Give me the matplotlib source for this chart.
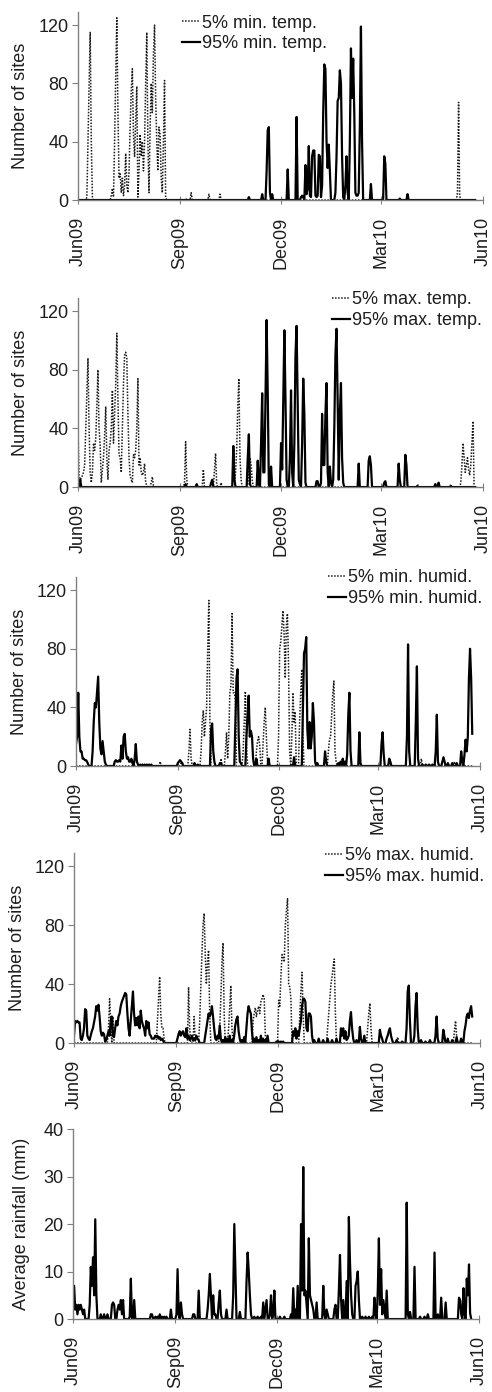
import numpy as np
import pandas as pd
import matplotlib
matplotlib.use("Agg")
import matplotlib.pyplot as plt
import matplotlib.dates as mdates

plt.rcParams['font.family'] = ['Liberation Sans', 'DejaVu Sans']
plt.rcParams['font.size'] = 13

# --- data: day offset from 1 Jun 2009 -> value (days not listed are 0) ---
n_days = 359
dates = pd.date_range('2009-06-01', periods=n_days, freq='D')

# panel 1: minimum temperature
mint5_days = [8, 9, 10, 11, 12, 13, 30, 31, 32, 33, 34, 35, 36, 37, 38, 39, 40, 41, 42, 43, 44, 45, 46, 47, 48, 49, 50,
              51, 52, 53, 54, 55, 56, 57, 58, 59, 60, 61, 62, 63, 64, 65, 66, 67, 68, 69, 70, 71, 72, 73, 74, 75, 76,
              77, 78, 79, 97, 102, 118, 128, 342, 343, 344]
mint5_vals = [2, 40, 80, 115, 40, 2, 3, 8, 2, 40, 85, 125, 60, 15, 18, 5, 15, 3, 10, 32, 10, 5, 20, 50, 75, 90, 45,
              30, 55, 78, 2, 20, 45, 30, 40, 20, 40, 80, 115, 40, 5, 50, 80, 60, 100, 120, 70, 40, 20, 50, 45, 15, 5,
              40, 82, 2, 1, 5, 4, 4, 5, 67, 3]
mint95_days = [154, 166, 170, 171, 172, 173, 175, 189, 197, 201, 202, 203, 205, 206, 207, 208, 209, 210, 211, 212,
               213, 214, 215, 216, 217, 218, 219, 220, 221, 222, 223, 224, 225, 226, 227, 232, 233, 234, 235, 236,
               237, 238, 239, 241, 242, 243, 245, 246, 247, 248, 249, 250, 251, 252, 253, 254, 255, 256, 264, 276,
               277, 290, 297]
mint95_vals = [2, 4, 20, 48, 50, 5, 4, 21, 57, 2, 3, 2, 24, 4, 8, 37, 3, 2, 30, 34,
               34, 3, 2, 3, 31, 30, 2, 10, 60, 93, 90, 40, 22, 38, 20, 5, 30, 68, 70, 89,
               80, 30, 2, 10, 30, 5, 40, 104, 70, 97, 60, 5, 3, 3, 5, 50, 119, 40, 11, 30,
               25, 1, 4]

# panel 2: maximum temperature
maxt5_days = [0, 1, 2, 3, 4, 5, 6, 7, 8, 9, 10, 11, 12, 13, 14, 15, 16, 17, 18, 19, 20, 21, 22, 23, 24, 25, 26, 27,
              28, 29, 30, 31, 32, 33, 34, 35, 36, 37, 38, 39, 40, 41, 42, 43, 44, 45, 46, 47, 48, 49, 50, 51, 52, 53,
              54, 55, 56, 57, 58, 59, 60, 61, 62, 66, 67, 68, 96, 97, 98, 113, 123, 124, 125, 129, 142, 143, 144,
              145, 146, 147, 154, 155, 156, 157, 306, 322, 325, 336, 345, 346, 347, 348, 349, 350, 351, 352, 353,
              354, 355, 356]
maxt5_vals = [38, 8, 5, 6, 8, 10, 15, 40, 65, 88, 40, 10, 3, 10, 30, 25, 33, 55, 80, 40, 28, 3, 12, 20, 35, 55, 20, 5,
              25, 30, 40, 66, 30, 50, 70, 105, 60, 22, 20, 10, 40, 70, 90, 92, 88, 50, 20, 8, 5, 3, 22, 20, 25, 40,
              74, 15, 20, 10, 8, 10, 16, 3, 1, 3, 7, 1, 3, 31, 5, 12, 12, 23, 2, 3, 10, 25, 55,
              74, 20, 5, 15, 20, 15, 5, 2, 2, 3, 2, 3, 15, 30, 20, 10, 15, 20, 12, 8,
              15, 30, 45]
maxt95_days = [2, 97, 107, 120, 121, 140, 141, 153, 154, 155, 162, 163, 165, 166, 167, 168, 169, 170, 171, 172, 174,
               183, 184, 185, 186, 187, 188, 191, 192, 193, 195, 196, 197, 198, 199, 200, 202, 203, 204, 205, 215,
               216, 219, 220, 221, 222, 223, 224, 225, 227, 228, 230, 231, 232, 233, 234, 235, 236, 237, 238, 239,
               253, 262, 263, 264, 276, 277, 289, 290, 295, 296, 322, 325]
maxt95_vals = [5, 2, 2, 3, 5, 28, 5, 20, 36, 2, 18, 2, 30, 64, 10, 10, 60, 114, 65, 2, 14,
               30, 12, 60, 107, 60, 5, 20, 66, 10, 30, 90, 110, 60, 5, 2, 30, 74, 50, 3, 4,
               4, 3, 50, 15, 15, 50, 71, 10, 14, 3, 5, 40, 90, 108, 60, 5, 50, 71, 20, 3,
               16, 18, 21, 15, 3, 4, 16, 5, 22, 15, 2, 3]

# panel 3: minimum humidity
minh5_days = [76, 95, 102, 103, 104, 113, 114, 115, 116, 117, 118, 119, 120, 121, 131, 135, 136, 137, 138, 139, 140,
              141, 142, 143, 144, 151, 152, 153, 154, 163, 164, 165, 166, 169, 170, 171, 172, 173, 183, 184, 185,
              186, 187, 188, 189, 190, 191, 192, 193, 195, 196, 197, 198, 202, 203, 204, 205, 228, 229, 230, 231,
              232, 233, 234, 235, 312, 342]
minh5_vals = [3, 2, 10, 25, 5, 10, 30, 38, 20, 30, 40, 80, 113, 30, 5, 10, 23, 5, 20, 50, 55,
              104, 50, 50, 45, 10, 30, 51, 15, 10, 17, 20, 14, 15, 30, 40, 20, 3, 20, 80, 85,
              95, 106, 90, 60, 95, 104, 70, 10, 20, 50, 30, 37, 30, 50, 66, 20, 10, 18, 20, 35,
              50, 58, 10, 3, 5, 3]
minh95_days = [0, 1, 2, 3, 4, 5, 6, 7, 8, 9, 10, 11, 15, 16, 17, 18, 19, 20, 21, 22, 23, 24, 25, 26, 27, 35, 36, 37,
               38, 39, 40, 41, 42, 43, 44, 45, 46, 47, 48, 49, 50, 51, 53, 54, 55, 56, 58, 60, 62, 64, 66, 68, 92,
               93, 94, 95, 96, 107, 110, 122, 123, 124, 125, 130, 131, 144, 145, 146, 147, 148, 149, 154, 155, 156,
               157, 158, 159, 160, 163, 174, 197, 205, 206, 207, 208, 209, 210, 211, 212, 213, 214, 215, 216, 218,
               225, 226, 237, 239, 241, 243, 245, 246, 247, 248, 256, 257, 276, 277, 278, 283, 284, 299, 300, 301,
               307, 308, 309, 313, 316, 319, 322, 325, 326, 327, 331, 332, 333, 336, 340, 344, 348, 349, 351, 352,
               353, 354, 355, 356, 357, 358]
minh95_vals = [15, 20, 50, 20, 10, 10, 5, 5, 4, 4, 3, 1, 10, 30, 43, 40, 50, 61, 30, 12, 8, 17, 10, 3, 1, 3, 4, 3,
               3, 4, 3, 14, 5, 20, 22, 10, 5, 6, 3, 3, 5, 2, 5, 15, 3, 1, 1, 1, 1, 1, 1, 1, 2,
               3, 4, 3, 2, 2, 1, 25, 29, 10, 3, 2, 2, 30, 60, 66, 20, 3, 2, 20, 35, 48,
               20, 24, 20, 5, 5, 5, 6, 40, 77, 80, 88, 25, 12, 30, 12, 20, 43, 30, 3, 2,
               10, 3, 2, 3, 5, 3, 8, 35, 50, 10, 23, 2, 15, 23, 8, 5, 3, 20, 83, 10,
               30, 68, 5, 1, 1, 1, 1, 10, 35, 3, 3, 6, 3, 2, 2, 2, 10, 3, 8, 18,
               10, 20, 60, 80, 60, 22]

# panel 4: maximum humidity
maxh5_days = [31, 32, 33, 35, 75, 76, 77, 78, 79, 80, 81, 103, 104, 108, 113, 114, 115, 116, 117, 118, 119, 120, 121,
              122, 131, 132, 133, 134, 135, 139, 140, 141, 142, 161, 162, 163, 164, 165, 166, 167, 168, 169, 170,
              171, 172, 184, 185, 186, 187, 188, 189, 190, 191, 192, 193, 194, 195, 203, 204, 205, 206, 228, 229,
              230, 231, 232, 233, 234, 235, 264, 265, 266, 267, 291, 342, 343, 344]
maxh5_vals = [10, 30, 15, 18, 15, 30, 45, 20, 10, 10, 3, 38, 10, 18, 15, 38, 60, 80, 88, 60, 40, 55, 63,
              20, 10, 30, 55, 68, 20, 10, 25, 39, 10, 15, 20, 24, 18, 22, 25, 20, 28, 30, 33,
              30, 5, 29, 25, 45, 60, 58, 55, 80, 90, 98, 40, 38, 30, 20, 35, 48, 20, 10, 20,
              30, 40, 45, 52, 57, 20, 10, 20, 27, 10, 4, 8, 15, 5]
maxh95_days = [0, 1, 2, 3, 4, 5, 6, 7, 8, 9, 10, 11, 12, 13, 14, 15, 16, 17, 18, 19, 20, 21, 22, 23, 24, 25, 26, 27,
               28, 29, 30, 31, 32, 33, 34, 35, 36, 37, 38, 39, 40, 41, 42, 43, 44, 45, 46, 47, 48, 49, 50, 51, 52,
               53, 54, 55, 56, 57, 58, 59, 60, 61, 62, 63, 64, 65, 66, 67, 68, 69, 70, 71, 72, 73, 74, 75, 76, 77,
               78, 79, 80, 93, 94, 95, 96, 97, 98, 99, 100, 101, 102, 103, 104, 105, 106, 107, 108, 109, 110, 111,
               112, 118, 119, 120, 121, 122, 123, 124, 125, 126, 127, 128, 129, 130, 131, 132, 134, 136, 138, 140,
               142, 144, 145, 146, 147, 148, 149, 151, 153, 155, 156, 157, 158, 159, 160, 162, 164, 166, 168, 170,
               172, 174, 182, 184, 186, 188, 197, 198, 199, 200, 201, 202, 203, 204, 205, 206, 207, 208, 209, 210,
               211, 212, 213, 214, 216, 220, 224, 228, 232, 236, 240, 241, 242, 243, 244, 245, 246, 247, 248, 249,
               250, 251, 254, 257, 258, 261, 275, 276, 277, 281, 282, 283, 284, 285, 286, 290, 295, 299, 300, 301,
               302, 306, 307, 308, 309, 312, 316, 320, 325, 326, 327, 332, 333, 336, 340, 344, 348, 351, 352, 353,
               354, 355, 356, 357, 358]
maxh95_vals = [5, 15, 14, 15, 14, 14, 3, 2, 5, 10, 23, 22, 5, 3, 2, 5, 8, 10, 14, 18, 25, 22, 26, 18, 8, 5, 7, 6,
               1, 2, 5, 8, 5, 15, 18, 5, 4, 10, 15, 12, 18, 20, 25, 28, 30, 32, 34, 33, 20, 10, 5, 15, 25,
               35, 20, 12, 17, 12, 18, 10, 22, 15, 12, 10, 5, 15, 10, 14, 6, 5, 3, 3, 3, 5, 4, 5, 3, 4,
               2, 3, 2, 3, 6, 8, 5, 7, 8, 5, 4, 10, 3, 5, 2, 3, 5, 2, 3, 2, 5, 3,
               2, 5, 10, 15, 20, 18, 20, 25, 18, 10, 3, 2, 5, 3, 12, 3, 2, 4, 3, 5,
               2, 5, 12, 16, 18, 8, 3, 2, 4, 10, 20, 25, 22, 20, 8, 3, 4, 2, 5, 3,
               2, 5, 1, 1, 1, 1, 8, 5, 10, 3, 8, 5, 10, 15, 25, 30, 30, 28, 10, 8,
               20, 20, 18, 5, 2, 3, 2, 3, 2, 3, 10, 5, 10, 3, 8, 2, 3, 5, 15, 21,
               10, 3, 2, 11, 3, 5, 9, 5, 3, 3, 5, 8, 10, 5, 2, 2, 1, 10, 35, 39,
               15, 5, 25, 34, 10, 2, 1, 2, 5, 18, 3, 9, 5, 3, 2, 4, 3, 8, 12, 18,
               20, 17, 22, 25, 18]

# panel 5: rainfall
rain_days = [0, 1, 2, 3, 4, 5, 6, 7, 8, 9, 10, 15, 16, 17, 18, 19, 20, 21, 25, 28, 31, 35, 36, 37, 40, 41, 42, 43,
             44, 45, 51, 52, 55, 70, 71, 74, 76, 78, 80, 82, 84, 88, 93, 94, 95, 97, 98, 108, 109, 113, 121, 122,
             123, 124, 126, 127, 128, 131, 132, 133, 138, 144, 145, 146, 150, 156, 157, 158, 159, 160, 163, 166,
             169, 171, 173, 174, 177, 178, 180, 181, 186, 190, 196, 198, 200, 202, 205, 206, 207, 208, 209, 210,
             212, 213, 214, 215, 216, 219, 225, 226, 228, 229, 235, 236, 239, 240, 241, 243, 246, 248, 249, 250,
             251, 254, 255, 256, 257, 260, 263, 266, 269, 271, 272, 274, 275, 276, 277, 278, 279, 280, 282, 300,
             301, 303, 307, 312, 316, 319, 325, 328, 331, 335, 347, 348, 349, 351, 352, 354, 355, 356, 357]
rain_vals = [2, 7, 2, 3, 1, 3, 2, 3, 2, 1, 2, 3, 11, 7, 13, 5, 21, 5, 1, 1, 1, 3, 3.5, 3, 2, 3, 2, 4,
             1, 4, 0.5, 8.5, 4, 1, 1, 0.5, 0.5, 1, 0.5, 0.5, 0.5, 2, 1, 10.5, 1, 3.5, 1, 1, 1, 6, 2, 5,
             9.5, 5, 5, 1, 1, 3.5, 6, 1, 2, 5, 20, 10, 1.5, 8, 14, 10, 5, 1, 0.5, 0.5,
             0.5, 3.5, 2, 4, 1, 5, 1, 6, 0.5, 0.5, 1, 6.5, 2, 7, 20, 6, 32, 5, 6, 3,
             17, 5, 4, 3, 2, 3.5, 7, 1, 2, 1, 2, 3, 6, 13.5, 4, 4, 8, 21.5, 12, 5,
             1, 7, 8, 10, 4, 0.5, 0.5, 0.5, 0.5, 4.5, 1, 6, 17, 3, 10.5, 1, 4, 2, 6, 24.5,
             1, 1.5, 11, 0.5, 0.5, 1, 14, 1, 4.5, 3.5, 4.5, 4, 1, 6.5, 1, 8.5, 5, 11.5, 1.2]


def daily(days, vals):
    s = np.zeros(n_days)
    s[days] = vals
    return s


panels = [
    (daily(mint5_days, mint5_vals), daily(mint95_days, mint95_vals), '5% min. temp.', '95% min. temp.'),
    (daily(maxt5_days, maxt5_vals), daily(maxt95_days, maxt95_vals), '5% max. temp.', '95% max. temp.'),
    (daily(minh5_days, minh5_vals), daily(minh95_days, minh95_vals), '5% min. humid.', '95% min. humid.'),
    (daily(maxh5_days, maxh5_vals), daily(maxh95_days, maxh95_vals), '5% max. humid.', '95% max. humid.'),
]
rain = daily(rain_days, rain_vals)

# axes boxes (fig fraction) and legend anchors / ylabel x (axes fraction)
boxes = [
    [0.1585, 0.8563, 0.8232, 0.1351],
    [0.1585, 0.6501, 0.8232, 0.1358],
    [0.1545, 0.4497, 0.8211, 0.1358],
    [0.1504, 0.2507, 0.8252, 0.1365],
    [0.1484, 0.0524, 0.8252, 0.1365],
]
leg_anchor = [(0.257, 0.985), (0.627, 1.035), (0.624, 1.04), (0.618, 1.03)]
ylab_x = [-0.141, -0.143, -0.141, -0.138, -0.126]

txt = '#1e1e1e'
grey = '#808080'
tick_dates = pd.to_datetime(['2009-06-01', '2009-09-01', '2009-12-01', '2010-03-01', '2010-06-01'])

fig = plt.figure(figsize=(4.92, 13.92), dpi=100)


def style_axes(ax, i):
    for s in ['top', 'right']:
        ax.spines[s].set_visible(False)
    for s in ['left', 'bottom']:
        ax.spines[s].set_color(grey)
        ax.spines[s].set_linewidth(1.0)
    ax.set_xlim(tick_dates[0], tick_dates[-1])
    ax.set_xticks(tick_dates)
    ax.xaxis.set_major_formatter(mdates.DateFormatter('%b%y'))
    ax.tick_params(axis='x', direction='inout', length=6, pad=9, rotation=90, colors=grey, labelcolor=txt, labelsize=13)
    ax.tick_params(axis='y', direction='out', length=4, pad=3, colors=grey, labelcolor=txt, labelsize=13)
    ax.yaxis.set_label_coords(ylab_x[i], 0.5)
    ax.yaxis.label.set_va('center')


for i, (low, high, lab_low, lab_high) in enumerate(panels):
    ax = fig.add_axes(boxes[i])
    ax.plot(dates, low, color='#1a1a1a', lw=1.1, ls=(0, (1, 1)), label=lab_low)
    ax.plot(dates, high, color='black', lw=1.6, label=lab_high)
    ax.set_ylim(0, 129)
    ax.set_yticks([0, 40, 80, 120])
    ax.set_ylabel('Number of sites', fontsize=13, color=txt)
    style_axes(ax, i)
    ax.legend(loc='upper left', bbox_to_anchor=leg_anchor[i], frameon=False, fontsize=13,
              handlelength=1.0, handletextpad=0.1, labelspacing=0.2, borderpad=0, borderaxespad=0,
              labelcolor=txt)

ax = fig.add_axes(boxes[4])
ax.plot(dates, rain, color='black', lw=1.6)
ax.set_ylim(0, 40)
ax.set_yticks([0, 10, 20, 30, 40])
ax.set_ylabel('Average rainfall (mm)', fontsize=13, color=txt)
style_axes(ax, 4)

fig.savefig('out.png', dpi=100)
